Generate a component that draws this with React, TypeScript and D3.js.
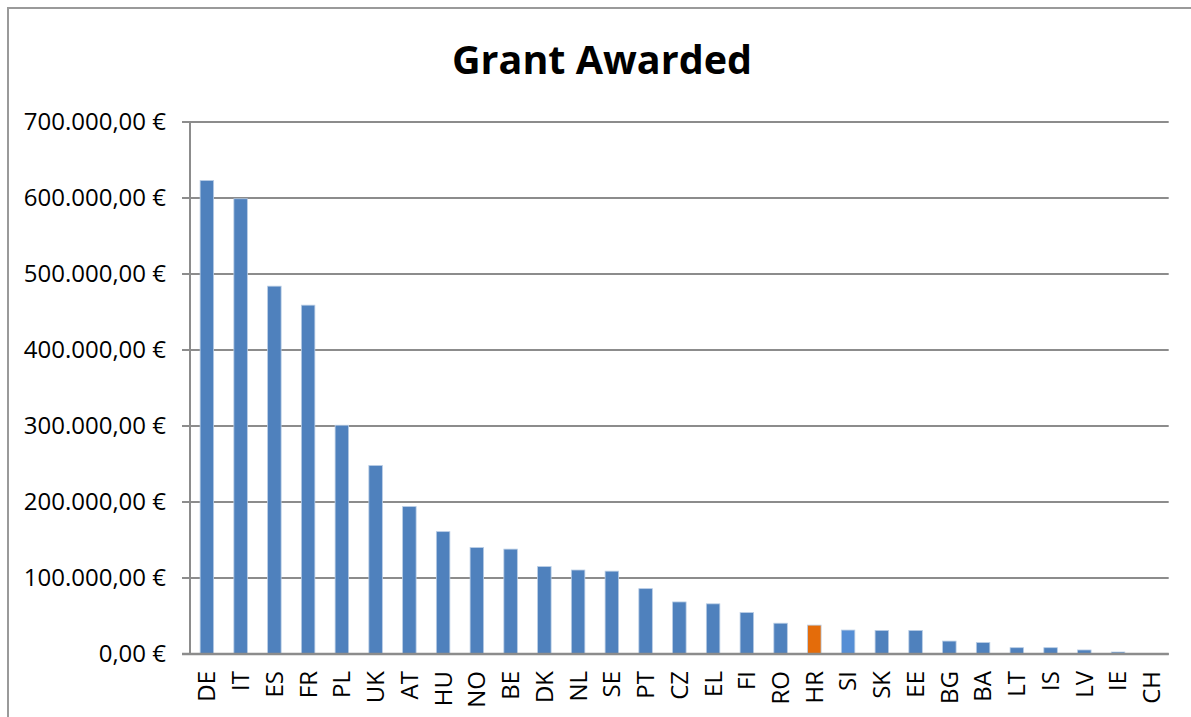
import React from 'react';
import * as d3 from 'd3';

// countries, sorted by grant awarded
const countries = ['DE', 'IT', 'ES', 'FR', 'PL', 'UK', 'AT', 'HU', 'NO', 'BE', 'DK', 'NL', 'SE', 'PT', 'CZ',
  'EL', 'FI', 'RO', 'HR', 'SI', 'SK', 'EE', 'BG', 'BA', 'LT', 'IS', 'LV', 'IE', 'CH'];
const grants = [623000, 599000, 484000, 459000, 301000, 248000, 194000, 161000, 140000, 138000, 115000, 110500,
  109000, 86000, 68500, 66000, 54500, 40500, 38000, 31500, 31000, 31000, 17000, 15000, 8300, 8300, 5300, 2600, 0];
const yTicks = [0, 100000, 200000, 300000, 400000, 500000, 600000, 700000];
const title = 'Grant Awarded';

const barColor = '#4f81bd';
const special: Record<string, string> = { HR: '#e46c0a', SI: '#558ed5' };

const W = 1191;
const H = 717;
const left = 190;
const right = 1168.7;
const top = 122;
const bottom = 654;
const font = '"Open Sans", "Liberation Sans", sans-serif';

const euro = (v: number) => {
  const s = d3.format(',.2f')(v); // 700,000.00
  return s.replace(/,/g, '#').replace('.', ',').replace(/#/g, '.') + ' €';
};

export default function App() {
  const x = d3.scaleBand<string>().domain(countries).range([left, right]).paddingInner(0.6).paddingOuter(0.3);
  const y = d3.scaleLinear().domain([0, 700000]).range([bottom, top]);
  const grid = '#8c8c8c';

  return (
    <svg width={W} height={H} style={{ position: 'absolute', left: 0, top: 0, background: '#fff' }}
      fontFamily={font}>
      <rect x={8} y={8} width={W + 20} height={H + 20} fill="#fff" stroke="#9a9a9a" strokeWidth={2} />
      <text x={602} y={74} textAnchor="middle" fontSize={39.5} fontWeight="bold" fill="#000">{title}</text>

      {yTicks.map((t) => (
        <g key={t}>
          <line x1={182} x2={right} y1={y(t)} y2={y(t)} stroke={grid} strokeWidth={2} />
          <text x={166} y={y(t)} dy="0.35em" textAnchor="end" fontSize={24} fill="#000">{euro(t)}</text>
        </g>
      ))}
      <line x1={left} x2={left} y1={top} y2={bottom} stroke={grid} strokeWidth={2} />

      {countries.map((c, i) => {
        const v = grants[i];
        const h = bottom - y(v);
        return (
          <g key={c}>
            {v > 0 && (
              <rect x={x(c)} y={y(v)} width={x.bandwidth()} height={h}
                fill={special[c] || barColor} stroke="#b9cde5" strokeWidth={0.8} />
            )}
            <text transform={`translate(${(x(c) as number) + x.bandwidth() / 2},${bottom + 17}) rotate(-90)`}
              dy="0.35em" textAnchor="end" fontSize={24} fill="#000">{c}</text>
          </g>
        );
      })}
      <line x1={182} x2={right} y1={bottom} y2={bottom} stroke={grid} strokeWidth={2.5} />
    </svg>
  );
}
